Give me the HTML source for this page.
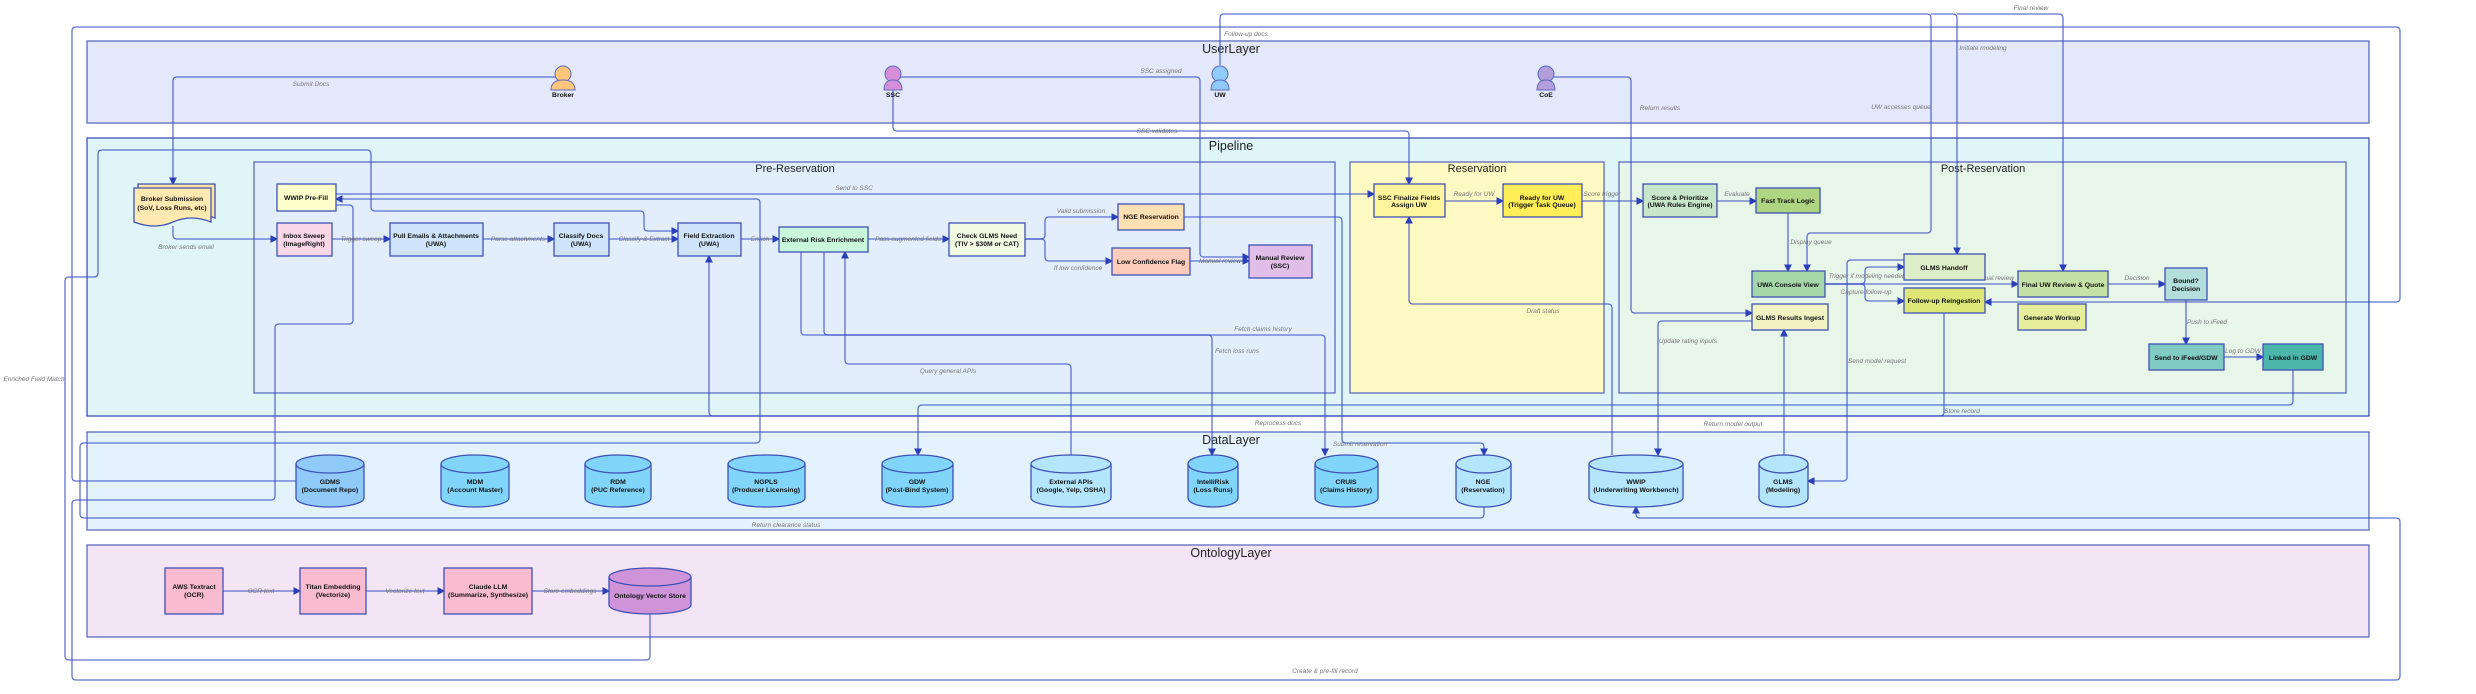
<!DOCTYPE html>
<html><head><meta charset="utf-8"><style>
html,body{margin:0;padding:0;background:#fff;}
svg{display:block;font-family:"Liberation Sans",sans-serif;}
.b{font-size:6.8px;font-weight:bold;fill:#111;text-anchor:middle;}
.l{font-size:6.5px;font-style:italic;fill:#777;text-anchor:middle;}
.t{font-size:12.5px;fill:#222;text-anchor:middle;}
.c{fill:none;stroke:#3a4fc4;stroke-width:1.3;stroke-opacity:.8;}
.bx{stroke:#3f51b5;stroke-width:1.3;}
</style></head><body>
<svg width="2476" height="694" viewBox="0 0 2476 694" xmlns="http://www.w3.org/2000/svg">
<defs><marker id="a" markerWidth="6" markerHeight="6" refX="5" refY="3" orient="auto"><path d="M0,0L6,3L0,6z" fill="#2b3fb8"/></marker></defs>

<rect x="87" y="41" width="2282" height="82" fill="#e3e8fa" stroke="#5c6bc0" stroke-width="1.3"/>
<text class="t" x="1231" y="53">UserLayer</text>
<rect x="87" y="138" width="2282" height="278" fill="#dff5f8" stroke="#3f51b5" stroke-width="1.3"/>
<text class="t" x="1231" y="150">Pipeline</text>
<rect x="254" y="162" width="1081" height="231" fill="#e3eefc" stroke="#5c6bc0" stroke-width="1.3"/>
<text class="t" x="795" y="172" style="font-size:11px">Pre-Reservation</text>
<rect x="1350" y="162" width="254" height="231" fill="#fff9c4" stroke="#5c6bc0" stroke-width="1.3"/>
<text class="t" x="1477" y="172" style="font-size:11px">Reservation</text>
<rect x="1619" y="162" width="727" height="231" fill="#e8f5e9" stroke="#5c6bc0" stroke-width="1.3"/>
<text class="t" x="1983" y="172" style="font-size:11px">Post-Reservation</text>
<rect x="87" y="432" width="2282" height="98" fill="#e3f2fd" stroke="#5c6bc0" stroke-width="1.3"/>
<text class="t" x="1231" y="444">DataLayer</text>
<rect x="87" y="545" width="2282" height="92" fill="#f3e5f5" stroke="#5c6bc0" stroke-width="1.3"/>
<text class="t" x="1231" y="557">OntologyLayer</text>

<g class="c">
<path d="M563,77H177q-4,0-4,4V184" marker-end="url(#a)"/>
<path d="M173,226V235q0,4,4,4H277" marker-end="url(#a)"/>
<path d="M332,239H390" marker-end="url(#a)"/>
<path d="M483,239H554" marker-end="url(#a)"/>
<path d="M609,239H678" marker-end="url(#a)"/>
<path d="M741,239H779" marker-end="url(#a)"/>
<path d="M868,239H949" marker-end="url(#a)"/>
<path d="M1025,239H1041q4,0,4-4V221q0-4,4-4H1118" marker-end="url(#a)"/>
<path d="M1025,239H1041q4,0,4,4V257q0,4,4,4H1112" marker-end="url(#a)"/>
<path d="M1190,261H1249" marker-end="url(#a)"/>
<path d="M893,77H1196q4,0,4,4V253q0,4,4,4H1249" marker-end="url(#a)"/>
<path d="M893,90V127q0,4,4,4H1405q4,0,4,4V184" marker-end="url(#a)"/>
<path d="M336,194H1374" marker-end="url(#a)"/>
<path d="M1445,201H1503" marker-end="url(#a)"/>
<path d="M1582,201H1643" marker-end="url(#a)"/>
<path d="M1717,201H1756" marker-end="url(#a)"/>
<path d="M1788,213V271" marker-end="url(#a)"/>
<path d="M1220,65V18q0-4,4-4H1927q4,0,4,4V229q0,4-4,4H1811q-4,0-4,4V271" marker-end="url(#a)"/>
<path d="M1931,14H1953q4,0,4,4V254" marker-end="url(#a)"/>
<path d="M1957,14H2059q4,0,4,4V271" marker-end="url(#a)"/>
<path d="M1546,77H1627q4,0,4,4V309q0,4,4,4H1752" marker-end="url(#a)"/>
<path d="M1825,284H1861q4,0,4-4V271q0-4,4-4H1904" marker-end="url(#a)"/>
<path d="M1825,284H2018" marker-end="url(#a)"/>
<path d="M1825,284H1861q4,0,4,4V297q0,4,4,4H1904" marker-end="url(#a)"/>
<path d="M2108,284H2165" marker-end="url(#a)"/>
<path d="M2186,300V344" marker-end="url(#a)"/>
<path d="M2224,357H2263" marker-end="url(#a)"/>
<path d="M2293,370V401q0,4-4,4H922q-4,0-4,4V455" marker-end="url(#a)"/>
<path d="M1944,313V412q0,4-4,4H713q-4,0-4-4V256" marker-end="url(#a)"/>
<path d="M296,481H76q-4,0-4-4V31q0-4,4-4H2396q4,0,4,4V298q0,4-4,4H1985" marker-end="url(#a)"/>
<path d="M1484,507V514q0,4-4,4H84q-4,0-4-4V447q0-4,4-4H756q4,0,4-4V203q0-4-4-4H336" marker-end="url(#a)"/>
<path d="M336,205H349q4,0,4,4V320q0,4-4,4H279q-4,0-4,4V496q0,4-4,4H76q-4,0-4,4V676q0,4,4,4H2396q4,0,4-4V522q0-4-4-4H1640q-4,0-4-4V507" marker-end="url(#a)"/>
<path d="M650,614V656q0,4-4,4H69q-4,0-4-4V281q0-4,4-4H94q4,0,4-4V154q0-4,4-4H367q4,0,4,4V207q0,4,4,4H640q4,0,4,4V227q0,4,4,4H678" marker-end="url(#a)"/>
<path d="M223,591H300" marker-end="url(#a)"/>
<path d="M366,591H444" marker-end="url(#a)"/>
<path d="M532,591H609" marker-end="url(#a)"/>
<path d="M801,252V331q0,4,4,4H1208q4,0,4,4V455" marker-end="url(#a)"/>
<path d="M824,252V331q0,4,4,4H1321q4,0,4,4V455" marker-end="url(#a)"/>
<path d="M1071,455V368q0-4-4-4H849q-4,0-4-4V252" marker-end="url(#a)"/>
<path d="M1184,217H1338q4,0,4,4V439q0,4,4,4H1480q4,0,4,4V455" marker-end="url(#a)"/>
<path d="M1752,321H1662q-4,0-4,4V455" marker-end="url(#a)"/>
<path d="M1612,455V308q0-4-4-4H1413q-4,0-4-4V217" marker-end="url(#a)"/>
<path d="M1904,260H1851q-4,0-4,4V477q0,4-4,4H1808" marker-end="url(#a)"/>
<path d="M1784,455V330" marker-end="url(#a)"/>
</g>

<g class="l">
<text x="311" y="86">Submit Docs</text>
<text x="186" y="249">Broker sends email</text>
<text x="361" y="241">Trigger sweep</text>
<text x="518" y="241">Parse attachments</text>
<text x="644" y="241">Classify &amp; Extract</text>
<text x="760" y="241">Enrich</text>
<text x="908" y="241">Pass augmented fields</text>
<text x="1081" y="213">Valid submission</text>
<text x="1078" y="270">If low confidence</text>
<text x="1220" y="263">Manual review</text>
<text x="1161" y="73">SSC assigned</text>
<text x="1157" y="133">SSC validates</text>
<text x="854" y="190">Send to SSC</text>
<text x="1474" y="196">Ready for UW</text>
<text x="1602" y="196">Score trigger</text>
<text x="1737" y="196">Evaluate</text>
<text x="1811" y="244">Display queue</text>
<text x="1246" y="36">Follow-up docs</text>
<text x="1901" y="109">UW accesses queue</text>
<text x="1983" y="50">Initiate modeling</text>
<text x="2031" y="10">Final review</text>
<text x="1660" y="110">Return results</text>
<text x="1867" y="278">Trigger if modeling needed</text>
<text x="1993" y="280">Manual review</text>
<text x="1866" y="294">Capture follow-up</text>
<text x="2137" y="280">Decision</text>
<text x="2207" y="324">Push to iFeed</text>
<text x="2243" y="353">Log to GDW</text>
<text x="1962" y="413">Store record</text>
<text x="1278" y="425">Reprocess docs</text>
<text x="1733" y="426">Return model output</text>
<text x="1877" y="363">Send model request</text>
<text x="1688" y="343">Update rating inputs</text>
<text x="1543" y="313">Draft status</text>
<text x="1360" y="446">Submit reservation</text>
<text x="1263" y="331">Fetch claims history</text>
<text x="1237" y="353">Fetch loss runs</text>
<text x="948" y="373">Query general APIs</text>
<text x="786" y="527">Return clearance status</text>
<text x="1325" y="673">Create &amp; pre-fill record</text>
<text x="34" y="381">Enriched Field Match</text>
<text x="261" y="593">OCR text</text>
<text x="405" y="593">Vectorize text</text>
<text x="570" y="593">Store embeddings</text>
</g>

<g stroke="#5c6bc0" stroke-width="1">
<circle cx="563" cy="74" r="8" fill="#ffc57a"/><path d="M551,90q0-10,12-10q12,0,12,10z" fill="#ffc57a"/>
<circle cx="893" cy="74" r="8" fill="#d48fd8"/><path d="M884,90q0-10,9-10q9,0,9,10z" fill="#d48fd8"/>
<circle cx="1220" cy="74" r="8" fill="#90caf9"/><path d="M1211,90q0-10,9-10q9,0,9,10z" fill="#90caf9"/>
<circle cx="1546" cy="74" r="8" fill="#b39ddb"/><path d="M1537,90q0-10,9-10q9,0,9,10z" fill="#b39ddb"/>
</g>
<g class="b"><text x="563" y="97">Broker</text><text x="893" y="97">SSC</text><text x="1220" y="97">UW</text><text x="1546" y="97">CoE</text></g>

<g class="bx">
<path d="M138,184h77v34q-20,-8 -38,0t-39,0z" fill="#ffe3a0"/>
<path d="M134,188h77v34q-20,-8 -38,0t-39,0z" fill="#ffe9b0"/>
</g>
<text class="b" x="172" y="201">Broker Submission</text><text class="b" x="172" y="210">(SoV, Loss Runs, etc)</text>

<g class="bx">
<rect x="277" y="184" width="59" height="27" fill="#ffffcc"/>
<rect x="277" y="223" width="55" height="33" fill="#f8d7e6"/>
<rect x="390" y="223" width="93" height="33" fill="#cfe3fb"/>
<rect x="554" y="223" width="55" height="33" fill="#cfe3fb"/>
<rect x="678" y="223" width="63" height="33" fill="#cfe3fb"/>
<rect x="779" y="227" width="89" height="25" fill="#c8f7dc"/>
<rect x="949" y="223" width="76" height="33" fill="#f1fbe3"/>
<rect x="1118" y="204" width="66" height="26" fill="#ffe0b2"/>
<rect x="1112" y="248" width="78" height="27" fill="#ffccbc"/>
<rect x="1249" y="245" width="63" height="33" fill="#e1bee7"/>
<rect x="1374" y="184" width="71" height="33" fill="#fff59d"/>
<rect x="1503" y="184" width="79" height="33" fill="#ffee58"/>
<rect x="1643" y="184" width="74" height="33" fill="#c8e6c9"/>
<rect x="1756" y="188" width="64" height="25" fill="#aed581"/>
<rect x="1752" y="271" width="73" height="26" fill="#a5d6a7"/>
<rect x="1904" y="254" width="81" height="26" fill="#dcedc8"/>
<rect x="1904" y="288" width="81" height="25" fill="#dce775"/>
<rect x="2018" y="271" width="90" height="26" fill="#c5e1a5"/>
<rect x="2165" y="268" width="42" height="32" fill="#b2dfdb"/>
<rect x="1752" y="304" width="76" height="26" fill="#f0f4c3"/>
<rect x="2018" y="304" width="68" height="26" fill="#e6ee9c"/>
<rect x="2149" y="344" width="75" height="26" fill="#80cbc4"/>
<rect x="2263" y="344" width="60" height="26" fill="#4db6ac"/>
<rect x="165" y="568" width="58" height="46" fill="#f8bbd0"/>
<rect x="300" y="568" width="66" height="46" fill="#f8bbd0"/>
<rect x="444" y="568" width="88" height="46" fill="#f8bbd0"/>
</g>
<g class="b">
<text x="306" y="200">WWIP Pre-Fill</text>
<text x="304" y="238">Inbox Sweep</text><text x="304" y="246">(ImageRight)</text>
<text x="436" y="238">Pull Emails &amp; Attachments</text><text x="436" y="246">(UWA)</text>
<text x="581" y="238">Classify Docs</text><text x="581" y="246">(UWA)</text>
<text x="709" y="238">Field Extraction</text><text x="709" y="246">(UWA)</text>
<text x="823" y="242">External Risk Enrichment</text>
<text x="987" y="238">Check GLMS Need</text><text x="987" y="246">(TIV &gt; $30M or CAT)</text>
<text x="1151" y="219">NGE Reservation</text>
<text x="1151" y="264">Low Confidence Flag</text>
<text x="1280" y="260">Manual Review</text><text x="1280" y="268">(SSC)</text>
<text x="1409" y="200">SSC Finalize Fields</text><text x="1409" y="207">Assign UW</text>
<text x="1542" y="200">Ready for UW</text><text x="1542" y="207">(Trigger Task Queue)</text>
<text x="1680" y="200">Score &amp; Prioritize</text><text x="1680" y="207">(UWA Rules Engine)</text>
<text x="1788" y="203">Fast Track Logic</text>
<text x="1788" y="287">UWA Console View</text>
<text x="1944" y="270">GLMS Handoff</text>
<text x="1944" y="303">Follow-up Reingestion</text>
<text x="2063" y="287">Final UW Review &amp; Quote</text>
<text x="2186" y="283">Bound?</text><text x="2186" y="291">Decision</text>
<text x="1790" y="320">GLMS Results Ingest</text>
<text x="2052" y="320">Generate Workup</text>
<text x="2186" y="360">Send to iFeed/GDW</text>
<text x="2293" y="360">Linked in GDW</text>
<text x="194" y="589">AWS Textract</text><text x="194" y="597">(OCR)</text>
<text x="333" y="589">Titan Embedding</text><text x="333" y="597">(Vectorize)</text>
<text x="488" y="589">Claude LLM</text><text x="488" y="597">(Summarize, Synthesize)</text>
</g>

<g class="bx">
<path d="M296,464v34a34,9 0 0 0 68,0v-34" fill="#90caf9"/><ellipse cx="330" cy="464" rx="34" ry="9" fill="#90caf9"/>
<path d="M441,464v34a34,9 0 0 0 68,0v-34" fill="#81d4fa"/><ellipse cx="475" cy="464" rx="34" ry="9" fill="#81d4fa"/>
<path d="M585,464v34a33,9 0 0 0 66,0v-34" fill="#81d4fa"/><ellipse cx="618" cy="464" rx="33" ry="9" fill="#81d4fa"/>
<path d="M728,464v34a38.5,9 0 0 0 77,0v-34" fill="#81d4fa"/><ellipse cx="766.5" cy="464" rx="38.5" ry="9" fill="#81d4fa"/>
<path d="M882,464v34a35.5,9 0 0 0 71,0v-34" fill="#81d4fa"/><ellipse cx="917.5" cy="464" rx="35.5" ry="9" fill="#81d4fa"/>
<path d="M1031,464v34a40,9 0 0 0 80,0v-34" fill="#b3e5fc"/><ellipse cx="1071" cy="464" rx="40" ry="9" fill="#b3e5fc"/>
<path d="M1188,464v34a25,9 0 0 0 50,0v-34" fill="#81d4fa"/><ellipse cx="1213" cy="464" rx="25" ry="9" fill="#81d4fa"/>
<path d="M1315,464v34a31.5,9 0 0 0 63,0v-34" fill="#81d4fa"/><ellipse cx="1346.5" cy="464" rx="31.5" ry="9" fill="#81d4fa"/>
<path d="M1456,464v34a27.5,9 0 0 0 55,0v-34" fill="#b3e5fc"/><ellipse cx="1483.5" cy="464" rx="27.5" ry="9" fill="#b3e5fc"/>
<path d="M1589,464v34a47,9 0 0 0 94,0v-34" fill="#b3e5fc"/><ellipse cx="1636" cy="464" rx="47" ry="9" fill="#b3e5fc"/>
<path d="M1759,464v34a24.5,9 0 0 0 49,0v-34" fill="#b3e5fc"/><ellipse cx="1783.5" cy="464" rx="24.5" ry="9" fill="#b3e5fc"/>
<path d="M609,577v28a41,9 0 0 0 82,0v-28" fill="#ce93d8"/><ellipse cx="650" cy="577" rx="41" ry="9" fill="#ce93d8"/>
</g>
<g class="b">
<text x="330" y="484">GDMS</text><text x="330" y="492">(Document Repo)</text>
<text x="475" y="484">MDM</text><text x="475" y="492">(Account Master)</text>
<text x="618" y="484">RDM</text><text x="618" y="492">(PUC Reference)</text>
<text x="766" y="484">NGPLS</text><text x="766" y="492">(Producer Licensing)</text>
<text x="917" y="484">GDW</text><text x="917" y="492">(Post-Bind System)</text>
<text x="1071" y="484">External APIs</text><text x="1071" y="492">(Google, Yelp, OSHA)</text>
<text x="1213" y="484">IntelliRisk</text><text x="1213" y="492">(Loss Runs)</text>
<text x="1346" y="484">CRUIS</text><text x="1346" y="492">(Claims History)</text>
<text x="1483" y="484">NGE</text><text x="1483" y="492">(Reservation)</text>
<text x="1636" y="484">WWIP</text><text x="1636" y="492">(Underwriting Workbench)</text>
<text x="1783" y="484">GLMS</text><text x="1783" y="492">(Modeling)</text>
<text x="650" y="598">Ontology Vector Store</text>
</g>
</svg>
</body></html>
